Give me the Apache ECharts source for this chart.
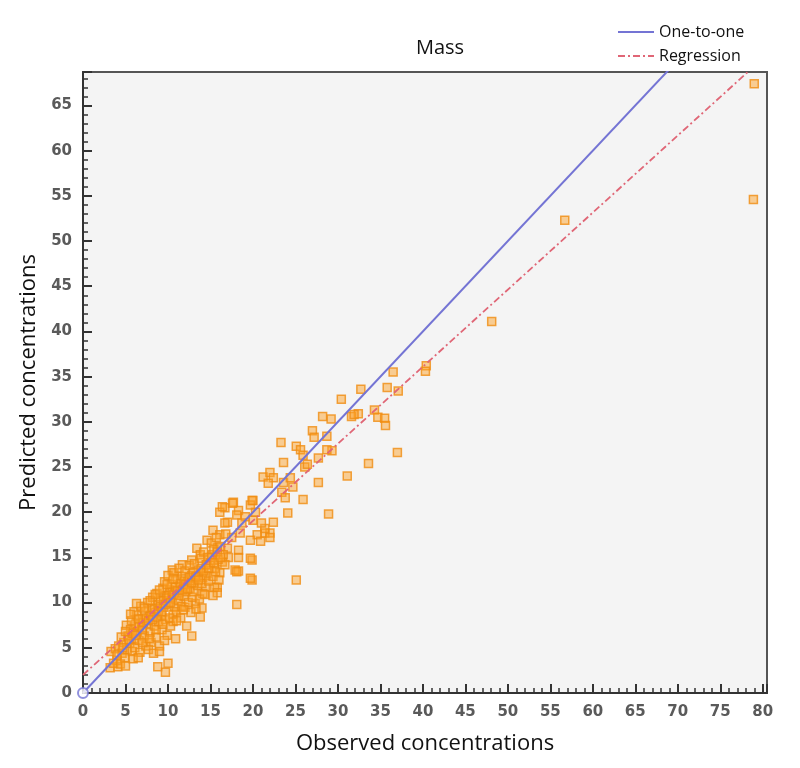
<!DOCTYPE html>
<html>
<head>
<meta charset="utf-8">
<script src="https://cdn.jsdelivr.net/npm/echarts@6/dist/echarts.min.js"></script>
<style>
  html, body { margin: 0; padding: 0; background: #fff; }
  #chart { width: 800px; height: 768px; }
</style>
</head>
<body>
<div id="chart"></div>
<script>
// observed vs predicted mass
var sparsePoints = [
  [79.0, 67.4], [78.9, 54.6], [56.7, 52.3], [48.1, 41.1], [40.4, 36.2], [40.3, 35.6],
  [36.5, 35.5], [35.8, 33.8], [37.1, 33.4], [32.7, 33.6], [30.4, 32.5], [34.3, 31.3],
  [34.7, 30.5], [35.5, 30.4], [35.6, 29.6], [32.4, 30.9], [31.6, 30.6], [31.9, 30.8],
  [28.2, 30.6], [29.2, 30.3], [27.0, 29.0], [27.2, 28.3], [28.7, 28.4], [23.3, 27.7],
  [25.1, 27.3], [25.6, 26.9], [25.9, 26.3], [29.3, 26.8], [27.7, 26.0], [23.6, 25.5],
  [26.1, 25.0], [37.0, 26.6], [33.6, 25.4], [31.1, 24.0], [27.7, 23.3], [21.2, 23.9],
  [22.0, 24.4], [22.4, 23.8], [21.8, 23.2], [23.6, 23.3], [24.4, 23.8], [24.7, 22.8],
  [23.4, 22.2], [23.8, 21.6], [25.9, 21.4], [24.1, 19.9], [28.9, 19.8], [20.0, 21.3],
  [20.3, 20.0], [22.4, 18.9], [22.0, 17.7], [21.4, 17.7], [19.9, 14.7], [25.1, 12.5],
  [19.9, 12.5], [28.7, 26.9], [26.4, 25.3], [18.1, 9.8], [12.8, 6.3], [8.8, 2.9],
  [9.7, 2.3], [10.0, 3.3], [3.2, 2.8], [4.1, 2.9], [4.0, 3.6]
];
var midPoints = [
  [17.7, 21.1], [16.7, 20.5], [18.3, 20.2], [19.7, 20.8], [19.1, 19.5], [18.1, 19.7],
  [17.0, 18.9], [18.7, 18.8], [20.0, 19.1], [21.4, 18.2], [22.0, 17.2], [15.3, 18.0],
  [16.1, 17.5], [17.5, 17.2], [18.5, 17.7], [20.5, 17.5], [19.7, 16.9], [14.6, 16.9],
  [15.8, 16.1], [17.0, 16.0], [18.3, 15.8], [13.4, 16.0], [13.8, 15.3], [15.2, 15.3],
  [17.1, 15.0], [18.3, 15.0], [19.7, 14.9], [16.4, 14.5], [14.6, 14.2], [15.5, 13.8],
  [16.7, 14.2], [18.3, 13.5], [16.1, 13.3], [14.0, 13.3], [19.7, 12.7], [15.8, 11.7],
  [14.4, 11.7], [10.5, 13.6], [11.7, 14.2], [12.8, 14.7], [14.1, 12.8], [13.0, 12.2],
  [11.8, 11.6], [16.1, 20.0], [16.4, 20.6], [17.6, 21.0], [19.9, 21.3], [16.7, 18.8],
  [21.0, 18.8], [20.9, 16.8], [17.9, 13.6], [18.1, 13.4], [15.5, 11.7], [15.8, 11.1],
  [14.0, 9.4], [13.8, 8.4], [14.1, 11.0], [15.3, 10.8], [13.2, 9.9], [12.0, 9.5],
  [10.8, 9.5], [10.6, 7.9]
];
var corePoints = [
  [3.3, 4.6], [3.8, 4.9], [4.2, 5.2], [4.6, 4.4], [4.9, 3.9], [3.6, 3.3], [4.4, 3.2],
  [5.0, 3.0], [4.8, 5.6], [5.2, 4.8], [5.1, 7.5], [4.5, 6.2],
  [5.3, 6.3], [5.6, 7.0], [5.5, 5.5], [5.8, 4.6], [6.0, 6.0], [6.1, 5.0], [6.2, 7.6],
  [6.3, 8.6], [6.0, 9.0], [6.4, 6.8], [6.6, 5.8], [6.7, 4.5], [6.9, 7.2], [7.0, 8.2],
  [6.8, 9.6], [5.9, 3.8], [6.5, 3.9], [7.2, 6.3], [7.4, 5.2], [5.7, 8.0],
  [7.3, 9.0], [7.5, 7.7], [7.6, 10.0], [7.8, 8.5], [7.9, 6.7], [8.0, 5.6], [8.1, 9.4],
  [8.2, 10.6], [8.4, 7.4], [8.5, 8.9], [8.6, 6.2], [8.7, 11.0], [8.8, 9.8], [8.9, 7.9],
  [9.0, 5.2], [9.1, 10.3], [9.2, 8.6], [7.7, 4.8], [8.3, 4.4], [9.3, 7.0],
  [9.4, 11.6], [9.5, 9.5], [9.6, 12.3], [9.7, 8.1], [9.8, 10.8], [9.9, 6.4], [10.0, 13.0],
  [10.1, 9.9], [10.2, 11.4], [10.3, 7.4], [10.4, 12.0], [10.5, 10.5], [10.6, 8.7],
  [10.7, 13.3], [10.8, 11.1], [10.9, 6.0], [11.0, 9.0], [11.1, 12.6], [11.2, 10.2], [11.3, 13.8],
  [11.4, 11.8], [11.5, 8.3], [11.6, 9.6], [11.7, 12.9], [11.9, 10.7], [12.0, 13.5],
  [12.1, 11.2], [12.2, 7.4], [12.3, 12.3], [12.4, 10.0], [12.5, 14.1], [12.6, 11.6],
  [12.7, 8.9], [12.8, 13.0], [12.9, 10.6], [13.0, 11.2], [13.1, 14.3], [13.2, 12.7],
  [13.3, 9.3], [13.5, 11.9],
  [13.6, 13.6], [13.7, 10.4], [13.9, 14.9], [14.0, 12.1], [14.2, 15.6], [14.3, 10.9],
  [14.5, 13.0], [14.7, 15.0], [14.8, 12.4], [15.0, 14.4], [15.1, 16.6], [15.3, 12.9],
  [15.4, 15.9], [15.6, 13.4], [15.7, 17.2], [15.9, 14.8], [16.0, 12.5], [16.2, 16.2],
  [16.5, 15.3], [16.8, 17.6],
  [4.0, 4.2], [4.7, 5.0], [5.4, 5.9], [5.8, 6.6], [6.2, 6.4], [6.6, 7.4], [7.0, 7.0],
  [7.1, 7.8], [7.4, 8.3], [7.7, 8.0], [8.0, 8.6], [8.2, 8.1], [8.4, 9.3], [8.7, 8.4],
  [8.9, 9.1], [9.1, 9.6], [9.3, 9.0], [9.5, 10.2], [9.7, 9.8], [9.9, 10.5], [10.1, 10.8],
  [10.3, 10.0], [10.5, 11.2], [10.7, 10.9], [10.9, 11.7], [11.1, 11.3], [11.3, 10.8],
  [11.5, 12.1], [11.7, 11.4], [11.9, 12.4], [12.1, 12.0], [12.3, 11.5], [12.5, 12.8],
  [12.8, 12.2], [13.0, 13.3], [13.3, 12.9], [13.6, 12.5], [13.9, 13.8], [14.2, 13.5],
  [14.5, 14.2], [14.8, 13.8], [15.1, 15.0], [15.4, 14.4], [15.8, 15.6], [16.2, 15.0],
  [6.5, 8.2], [7.2, 9.4], [7.9, 10.2], [8.5, 10.9], [9.0, 11.4], [9.9, 12.0], [10.6, 12.6],
  [7.0, 5.6], [7.8, 6.0], [8.6, 7.0], [9.4, 7.6], [10.2, 8.3], [11.0, 8.0], [11.8, 9.2],
  [5.0, 6.8], [5.6, 8.7], [6.3, 9.9], [9.0, 4.6], [9.6, 5.8]
];
// reference lines
var oneToOne = [[0, 0], [80, 80]];
var regression = [[0, 2.0], [80, 70.2]];
var xTicks = [0, 80.5, 5];
var yTicks = [0, 68.7, 5];

var points = sparsePoints.concat(midPoints, corePoints);

var myChart = echarts.init(document.getElementById('chart'));
var tickLabel = {
    color: '#5a5a5a', fontSize: 15, fontWeight: 'bold', fontFamily: 'DejaVu Sans',
    formatter: function (v) { return v % 5 === 0 ? String(v) : ''; }
};
myChart.setOption({
    animation: false,
    title: {
        text: 'Mass', left: 435, top: 33, textAlign: 'center',
        textStyle: {fontSize: 20, fontWeight: 'normal', color: '#111', fontFamily: 'Open Sans'}
    },
    legend: {
        orient: 'vertical', left: 612, top: 19, itemWidth: 36, itemHeight: 10, itemGap: 8,
        data: ['One-to-one', 'Regression'],
        itemStyle: {opacity: 0},
        textStyle: {fontSize: 16, color: '#111', fontFamily: 'Open Sans'}
    },
    grid: {
        left: 83, right: 33, top: 72, bottom: 75,
        show: true, backgroundColor: '#f4f4f4', borderColor: '#555', borderWidth: 2
    },
    xAxis: {
        type: 'value', min: xTicks[0], max: xTicks[1], interval: xTicks[2],
        name: 'Observed concentrations', nameLocation: 'middle', nameGap: 40,
        nameTextStyle: {fontSize: 22, color: '#111', fontFamily: 'Open Sans'},
        axisLine: {show: true, lineStyle: {color: '#333', width: 2}},
        axisTick: {show: true, inside: true, length: 9, lineStyle: {color: '#333', width: 2}},
        minorTick: {show: true, splitNumber: 5, length: 5, lineStyle: {color: '#333', width: 1.5}},
        axisLabel: Object.assign({margin: 12}, tickLabel),
        splitLine: {show: false}
    },
    yAxis: {
        type: 'value', min: yTicks[0], max: yTicks[1], interval: yTicks[2],
        name: 'Predicted concentrations', nameLocation: 'middle', nameGap: 42, nameRotate: 90,
        nameTextStyle: {fontSize: 22, color: '#111', fontFamily: 'Open Sans'},
        axisLine: {show: true, lineStyle: {color: '#333', width: 2}},
        axisTick: {show: true, inside: true, length: 9, lineStyle: {color: '#333', width: 2}},
        minorTick: {show: true, splitNumber: 5, length: 5, lineStyle: {color: '#333', width: 1.5}},
        axisLabel: Object.assign({margin: 11}, tickLabel),
        splitLine: {show: false}
    },
    series: [
        {
            type: 'scatter', symbol: 'rect', symbolSize: 8, z: 2,
            itemStyle: {color: 'rgba(252,160,40,0.6)', borderColor: '#f08c10', borderWidth: 1.5},
            data: points
        },
        {
            // small marker at the origin
            type: 'scatter', symbol: 'emptyCircle', symbolSize: 10, z: 5,
            itemStyle: {color: '#7474d4', borderWidth: 1.5},
            data: [oneToOne[0]]
        },
        {
            name: 'One-to-one', type: 'line', symbol: 'none', z: 4, clip: true,
            lineStyle: {color: '#7474d4', width: 2},
            itemStyle: {color: '#7474d4'},
            data: oneToOne
        },
        {
            name: 'Regression', type: 'line', symbol: 'none', z: 3, clip: true,
            lineStyle: {color: '#e06676', width: 1.8, type: [7, 3, 2, 3]},
            itemStyle: {color: '#e06676'},
            data: regression
        }
    ]
});
</script>
</body>
</html>
